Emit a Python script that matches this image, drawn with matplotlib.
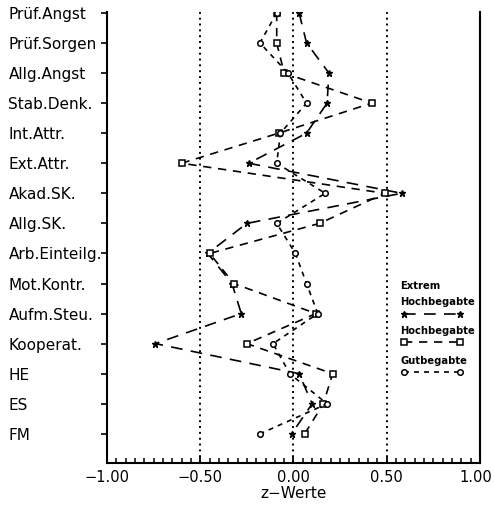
import numpy as np
import matplotlib.pyplot as plt
from matplotlib.lines import Line2D
from matplotlib.transforms import ScaledTranslation

# Skalen (oben nach unten)
categories = ["Prüf.Angst", "Prüf.Sorgen", "Allg.Angst", "Stab.Denk.", "Int.Attr.",
              "Ext.Attr.", "Akad.SK.", "Allg.SK.", "Arb.Einteilg.", "Mot.Kontr.",
              "Aufm.Steu.", "Kooperat.", "HE", "ES", "FM"]

# z-Werte je Gruppe
extrem = [0.03, 0.07, 0.19, 0.18, 0.07, -0.24, 0.58, -0.25, -0.46, -0.33,
          -0.28, -0.74, 0.03, 0.10, -0.01]
hoch = [-0.09, -0.09, -0.05, 0.42, -0.08, -0.60, 0.49, 0.14, -0.45, -0.32,
        0.12, -0.25, 0.21, 0.16, 0.06]
gut = [-0.09, -0.18, -0.03, 0.07, -0.07, -0.09, 0.17, -0.09, 0.01, 0.07,
       0.13, -0.11, -0.02, 0.18, -0.18]

x_ticks = [-1.0, -0.5, 0.0, 0.5, 1.0]
ref_lines = [-0.5, 0.0, 0.5]


def main():
    W, H = 494, 509
    fig = plt.figure(figsize=(W / 100, H / 100), dpi=100)
    ax = fig.add_axes([107 / W, 46 / H, 373 / W, 451 / H])
    pos = np.arange(len(categories))

    for x in ref_lines:
        ax.axvline(x, color="black", lw=1.4, linestyle=(0, (1.0, 2.0)), zorder=0)

    ax.plot(extrem, pos, color="black", lw=1.2, dashes=(7, 5), marker="*",
            ms=5, mfc="black", mec="black")
    ax.plot(hoch, pos, color="black", lw=1.2, dashes=(5, 4), marker="s",
            ms=4, mfc="white", mec="black", mew=1.1)
    ax.plot(gut, pos, color="black", lw=1.2, dashes=(3, 3), marker="o",
            ms=4, mfc="white", mec="black", mew=1.1)

    ax.set_xlim(-1, 1)
    ax.set_ylim(len(categories) - 0.03, -0.03)

    ax.set_xticks(x_ticks)
    ax.set_xticklabels([f"{v:.2f}".replace("-", "\u2212") for v in x_ticks], fontsize=10.5)
    ax.set_xticks(np.arange(-1, 1.001, 0.05), minor=True)
    ax.tick_params(axis="x", which="major", direction="in", length=5, width=1.3, pad=5)
    ax.tick_params(axis="x", which="minor", direction="in", length=3.5, width=1.1)

    ax.set_yticks(pos)
    ax.set_yticklabels(categories, fontsize=11)
    ax.tick_params(axis="y", direction="out", length=4, width=1.2, pad=67)
    for lab in ax.get_yticklabels():
        lab.set_horizontalalignment("left")

    ax.set_xlabel("z\u2212Werte", fontsize=11, labelpad=1)

    ax.spines["top"].set_visible(False)
    for s in ("left", "right", "bottom"):
        ax.spines[s].set_linewidth(1.5)

    # letzte Beschriftung etwas nach links, damit sie nicht abgeschnitten wird
    last = ax.get_xticklabels()[-1]
    last.set_transform(last.get_transform() + ScaledTranslation(-3 / 72, 0, fig.dpi_scale_trans))

    # Legende (Text ueber der Linie)
    tf = fig.transFigure
    fs = 7.2
    fig.text(400 / W, 1 - 286 / H, "Extrem", fontsize=fs, weight="bold", va="center")
    fig.text(400 / W, 1 - 302 / H, "Hochbegabte", fontsize=fs, weight="bold", va="center")
    fig.add_artist(Line2D([404 / W, 460 / W], [1 - 314 / H] * 2, transform=tf,
                          color="black", lw=1.2, dashes=(7, 5), marker="*", ms=5,
                          mfc="black", mec="black"))
    fig.text(400 / W, 1 - 331 / H, "Hochbegabte", fontsize=fs, weight="bold", va="center")
    fig.add_artist(Line2D([404 / W, 460 / W], [1 - 342 / H] * 2, transform=tf,
                          color="black", lw=1.2, dashes=(5, 4), marker="s", ms=4,
                          mfc="white", mec="black", mew=1.1))
    fig.text(400 / W, 1 - 361 / H, "Gutbegabte", fontsize=fs, weight="bold", va="center")
    fig.add_artist(Line2D([404 / W, 460 / W], [1 - 372 / H] * 2, transform=tf,
                          color="black", lw=1.2, dashes=(3, 3), marker="o", ms=4,
                          mfc="white", mec="black", mew=1.1))

    fig.savefig("out.png", dpi=100)


if __name__ == "__main__":
    main()
